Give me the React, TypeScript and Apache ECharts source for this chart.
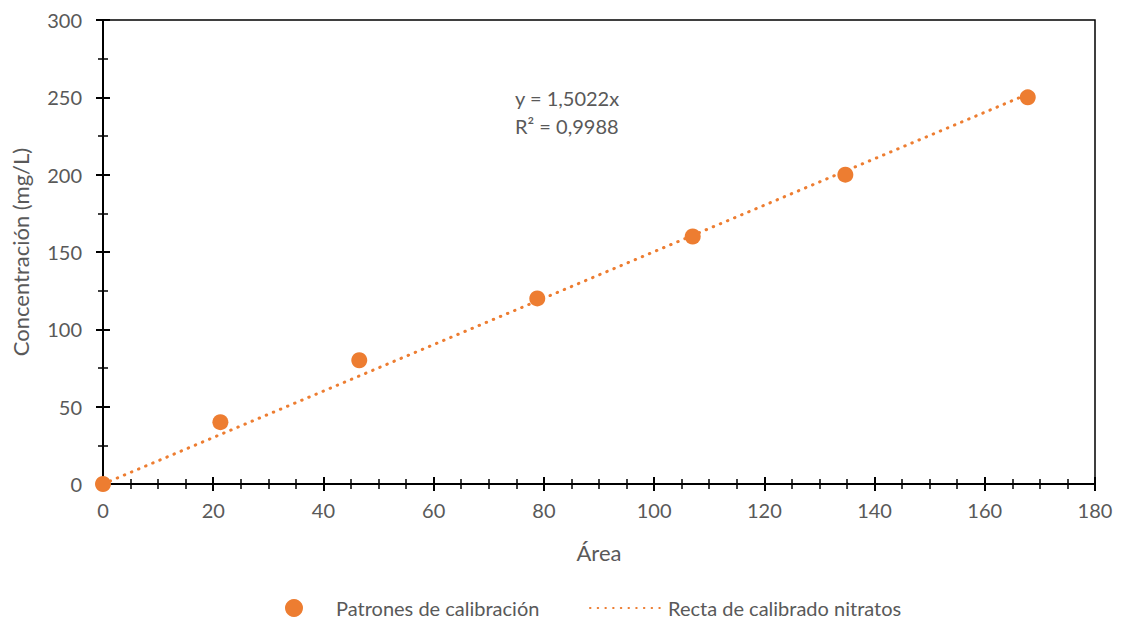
import React, { useEffect, useRef } from "react";
import * as echarts from "echarts";

const areas = [0, 21.3, 46.5, 78.8, 107.0, 134.7, 167.8];
const concentrations = [0, 40, 80, 120, 160, 200, 250];
const slope = 1.5022;
const r2Text = "R² = 0,9988";
const eqText = "y = 1,5022x";
const trendX = [0, 167.8];
const xTicks = { min: 0, max: 180, interval: 20 };
const yTicks = { min: 0, max: 300, interval: 50 };
const seriesNames = ["Patrones de calibración", "Recta de calibrado nitratos"];

const ORANGE = "#ED7D31";
const GREY = "#595959";
const FONT = "Lato, 'Open Sans', sans-serif";

export default function App() {
  const ref = useRef<HTMLDivElement>(null);
  useEffect(() => {
    if (!ref.current) return;
    const chart = echarts.init(ref.current, null, { renderer: "svg" });
    const scatterData = areas.map((a, i) => [a, concentrations[i]]);
    const trendData = trendX.map((x) => [x, slope * x]);
    const baseAxis = (inside: boolean, showLabel: boolean) => ({
      axisLine: { show: showLabel, lineStyle: { color: "#000", width: 2 } },
      axisTick: { show: true, inside, length: 7, lineStyle: { color: "#000", width: 2 } },
      splitLine: { show: false },
    });
    const minor = (n: number) => ({
      show: true,
      splitNumber: n,
      length: 5,
      lineStyle: { color: "#000", width: 1.5 },
    });
    chart.setOption({
      animation: false,
      backgroundColor: "#fff",
      textStyle: { fontFamily: FONT },
      grid: {
        left: 103,
        right: 29,
        top: 20,
        bottom: 135,
        show: true,
        borderColor: "#000",
        borderWidth: 1.5,
        outerBoundsMode: "none",
        containLabel: false,
      },
      xAxis: [
        {
          type: "value",
          ...xTicks,
          position: "bottom",
          name: "Área",
          nameLocation: "middle",
          nameGap: 57,
          nameTextStyle: { color: GREY, fontSize: 22, fontFamily: FONT },
          ...baseAxis(false, true),
          minorTick: minor(4),
          axisLabel: { color: GREY, fontSize: 20, margin: 16, fontFamily: FONT },
        },
        {
          type: "value",
          ...xTicks,
          position: "bottom",
          ...baseAxis(true, false),
          minorTick: minor(4),
          axisLabel: { show: false },
        },
      ],
      yAxis: [
        {
          type: "value",
          ...yTicks,
          position: "left",
          name: "Concentración (mg/L)",
          nameLocation: "middle",
          nameGap: 72,
          nameTextStyle: { color: GREY, fontSize: 22, fontFamily: FONT },
          ...baseAxis(false, true),
          minorTick: minor(2),
          axisLabel: { color: GREY, fontSize: 20, margin: 21, fontFamily: FONT },
        },
        {
          type: "value",
          ...yTicks,
          position: "left",
          ...baseAxis(true, false),
          minorTick: minor(2),
          axisLabel: { show: false },
        },
      ],
      legend: [
        {
          data: [seriesNames[0]],
          left: 280,
          top: 593,
          icon: "circle",
          itemWidth: 18,
          itemHeight: 18,
          textStyle: { color: GREY, fontSize: 20, fontFamily: FONT, padding: [0, 0, 0, 28] },
        },
        {
          data: [seriesNames[1]],
          left: 584,
          top: 593,
          itemWidth: 73,
          itemHeight: 18,
          itemGap: 0,
          itemStyle: { color: "rgba(0,0,0,0)", borderWidth: 0, opacity: 0 },
          textStyle: { color: GREY, fontSize: 20, fontFamily: FONT },
        },
      ],
      graphic: [
        {
          type: "text",
          left: 515,
          top: 88,
          style: { text: eqText, fill: GREY, font: `20px ${FONT}` },
        },
        {
          type: "text",
          left: 515,
          top: 116,
          style: { text: r2Text, fill: GREY, font: `20px ${FONT}` },
        },
      ],
      series: [
        {
          name: seriesNames[1],
          type: "line",
          xAxisIndex: 0,
          yAxisIndex: 0,
          data: trendData,
          symbol: "none",
          showSymbol: false,
          z: 2,
          lineStyle: { color: ORANGE, width: 3, type: [0.5, 7.2], cap: "round" },
          itemStyle: { color: ORANGE },
        },
        {
          name: seriesNames[0],
          type: "scatter",
          xAxisIndex: 0,
          yAxisIndex: 0,
          data: scatterData,
          symbolSize: 16,
          z: 3,
          itemStyle: { color: ORANGE, opacity: 1 },
        },
      ],
    });
    return () => chart.dispose();
  }, []);
  return <div ref={ref} style={{ width: 1124, height: 619, position: "absolute", left: 0, top: 0 }} />;
}
